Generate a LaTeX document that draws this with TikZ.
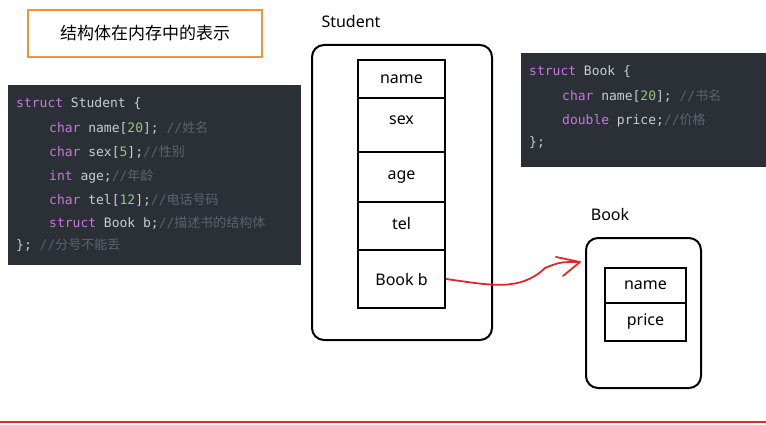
\documentclass[tikz,border=0pt]{standalone}
\usepackage{fontspec}
\setmainfont{Noto Sans}
\setmonofont{DejaVu Sans Mono}
\newfontfamily\cjk{Noto Sans CJK SC}
\definecolor{codebg}{HTML}{2B2F36}
\definecolor{kw}{HTML}{C27BD8}
\definecolor{num}{HTML}{98C379}
\definecolor{txt}{HTML}{C8CCD4}
\definecolor{cmt}{HTML}{5C6370}
\definecolor{titleorange}{HTML}{F0923A}
\definecolor{arrowred}{HTML}{E0282C}
\newcommand{\kwd}[1]{\textcolor{kw}{#1}}
\newcommand{\nm}[1]{\textcolor{num}{#1}}
\newcommand{\cm}[1]{\textcolor{cmt}{//{\cjk\itshape #1}}}
\begin{document}
\begin{tikzpicture}[x=1pt,y=-1pt]
	\tikzstyle{Code} = [anchor=west, inner sep=0pt, font=\ttfamily\fontsize{13}{15}\selectfont, text=txt]
	\tikzstyle{Cell} = [draw, line width=1.8pt, minimum width=87, inner sep=0pt, font=\fontsize{16}{18}\selectfont]
	\tikzstyle{Frame} = [draw, line width=2pt, rounded corners=12]
	\useasboundingbox (0,0) rectangle (766,425);
	% title
	\node (title) at (145,33.5) [draw=titleorange, line width=1.5pt, minimum width=234, minimum height=47, font=\cjk\fontsize{17}{20}\selectfont] {结构体在内存中的表示};
	% code of Student
	\fill [codebg] (8,85) rectangle (301,265);
	\node (s1) at (16,104) [Code] {\kwd{struct} Student \{};
	\node (s2) at (49,128) [Code] {\kwd{char} name[\nm{20}]; \cm{姓名}};
	\node (s3) at (49,152) [Code] {\kwd{char} sex[\nm{5}];\cm{性别}};
	\node (s4) at (49,176) [Code] {\kwd{int} age;\cm{年龄}};
	\node (s5) at (49,200) [Code] {\kwd{char} tel[\nm{12}];\cm{电话号码}};
	\node (s6) at (49,223) [Code] {\kwd{struct} Book b;\cm{描述书的结构体}};
	\node (s7) at (16,245) [Code] {\}; \cm{分号不能丢}};
	% code of Book
	\fill [codebg] (521,53) rectangle (766,167);
	\node (b1) at (529,72) [Code] {\kwd{struct} Book \{};
	\node (b2) at (562,96) [Code] {\kwd{char} name[\nm{20}]; \cm{书名}};
	\node (b3) at (562,120) [Code] {\kwd{double} price;\cm{价格}};
	\node (b4) at (529,143) [Code] {\};};
	% Student in memory
	\node (student) at (351,22) [font=\fontsize{16}{18}\selectfont] {Student};
	\draw [Frame] (312,45) rectangle (492,340);
	\node (name) at (401.5,79) [Cell, minimum height=38] {name};
	\node (sex) at (401.5,125) [Cell, minimum height=54, text depth=10pt] {sex};
	\node (age) at (401.5,177) [Cell, minimum height=50] {age};
	\node (tel) at (401.5,226) [Cell, minimum height=48, text depth=5pt] {tel};
	\node (bookb) at (401.5,279) [Cell, minimum height=58] {Book b};
	% Book in memory
	\node (book) at (610,214) [font=\fontsize{16}{18}\selectfont] {Book};
	\draw [Frame] (586,238) rectangle (701,388);
	\node (bname) at (645.5,285.5) [Cell, minimum width=81, minimum height=35] {name};
	\node (bprice) at (645.5,322) [Cell, minimum width=81, minimum height=38] {price};
	\coordinate (tip) at (580,262);
	\draw [arrowred, line width=1.8pt] (bookb.east) .. controls (490,285) and (520,292) .. (545,268) .. controls (560,262) .. (tip);
	\draw [arrowred, line width=1.8pt, line cap=round, line join=round] (556,257) -- (tip) -- (563,276);
	% bottom rule
	\draw [arrowred, line width=2pt] (0,422) -- (766,422);
\end{tikzpicture}
\end{document}
